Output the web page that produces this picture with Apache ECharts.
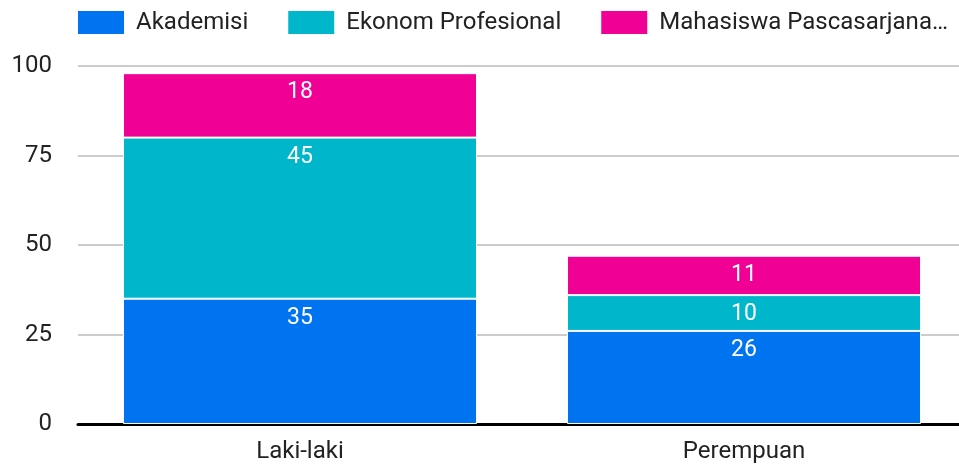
<!DOCTYPE html>
<html>
<head>
<meta charset="utf-8">
<script src="https://cdn.jsdelivr.net/npm/echarts@6/dist/echarts.min.js"></script>
<style>
  html, body { margin: 0; padding: 0; background: #fff; }
  #chart { width: 959px; height: 467px; }
</style>
</head>
<body>
<div id="chart"></div>
<script>
const categories = ['Laki-laki', 'Perempuan'];
const seriesNames = ['Akademisi', 'Ekonom Profesional', 'Mahasiswa Pascasarjana…'];
const akademisi = [35, 26];
const ekonom = [45, 10];
const mahasiswa = [18, 11];
const yTicks = [0, 25, 50, 75, 100];
const colors = ['#0073F0', '#00B6CB', '#F10096'];

const chart = echarts.init(document.getElementById('chart'));

const mkSeries = (name, data, color) => ({
  name,
  type: 'bar',
  stack: 'total',
  data,
  barWidth: 354,
  itemStyle: { color, borderColor: '#fff', borderWidth: 1 },
  label: {
    show: true,
    position: 'insideTop',
    distance: 8,
    color: '#fff',
    fontSize: 23,
    fontFamily: 'Roboto'
  }
});

chart.setOption({
  animation: false,
  textStyle: { fontFamily: 'Roboto' },
  legend: {
    left: 76,
    top: 9,
    padding: 0,
    itemWidth: 48,
    itemHeight: 25,
    itemGap: 38,
    icon: 'rect',
    textStyle: { fontSize: 24, color: '#222', fontFamily: 'Roboto', padding: [0, 0, 0, 6] }
  },
  grid: { left: 78, width: 888, top: 66, bottom: 43, outerBoundsMode: 'none', containLabel: false },
  xAxis: {
    type: 'category',
    data: categories,
    axisTick: { show: false },
    axisLine: { lineStyle: { color: '#000', width: 3 } },
    axisLabel: { fontSize: 24, color: '#222', margin: 16 }
  },
  yAxis: {
    type: 'value',
    min: yTicks[0],
    max: yTicks[yTicks.length - 1],
    interval: 25,
    axisLabel: { fontSize: 24, color: '#222', margin: 26 },
    splitLine: { lineStyle: { color: '#ccc', width: 2 } }
  },
  series: [
    mkSeries(seriesNames[0], akademisi, colors[0]),
    mkSeries(seriesNames[1], ekonom, colors[1]),
    mkSeries(seriesNames[2], mahasiswa, colors[2])
  ]
});
</script>
</body>
</html>
